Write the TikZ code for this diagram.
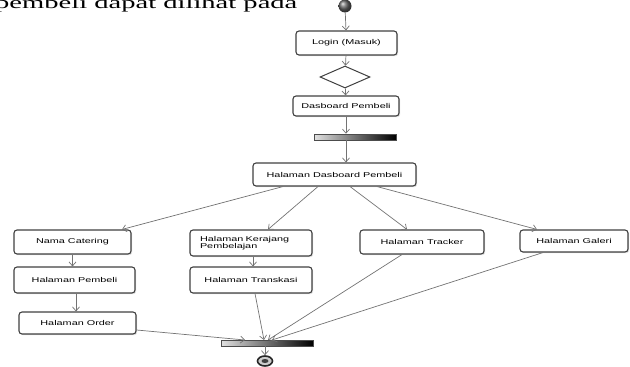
\documentclass[tikz,border=0pt]{standalone}
\usepackage{fontspec}
\setmainfont{Liberation Serif}
\newfontfamily\boxfont[FakeStretch=1.55]{Liberation Sans}
\newfontfamily\capfont[FakeStretch=1.68]{Liberation Serif}
\usetikzlibrary{arrows.meta,calc,shadows,shapes.geometric}
\begin{document}
\begin{tikzpicture}[x=1pt,y=-1pt,
  box/.style={draw=black!75, line width=1.1pt, rounded corners=3pt, fill=white,
    font=\boxfont\fontsize{7}{8}\selectfont, inner sep=2pt,
    drop shadow={shadow xshift=1.2pt, shadow yshift=-1.2pt, fill=black!25}},
  flow/.style={draw=black!55, line width=0.7pt, -{Straight Barb[length=4pt,width=7pt]}},
  bar/.style={draw=black!70, line width=0.6pt, left color=black!12, right color=black,
    inner sep=0pt, minimum height=6pt}
]
\useasboundingbox (0,0) rectangle (630,367);
\clip (0,0) rectangle (630,367);

\node[anchor=base west, font=\capfont\fontsize{17}{17}\selectfont, inner sep=0pt] (cap) at (-5,8) {pembeli dapat dilihat pada};

\node[circle, shading=ball, ball color=black!60, minimum size=13pt, inner sep=0pt] (start) at (345,6) {};
\node[box, minimum width=101pt, minimum height=24pt] (login) at (346.5,43) {Login (Masuk)};
\node[diamond, draw=black!75, line width=1pt, fill=white, minimum width=50pt, minimum height=22pt, inner sep=0pt] (dec) at (345,77) {};
\node[box, minimum width=106pt, minimum height=20pt] (dash) at (346,106) {Dasboard Pembeli};
\node[bar, minimum width=82pt] (fork1) at (355,137) {};
\node[box, minimum width=163pt, minimum height=23pt] (hdp) at (334.5,174.5) {Halaman Dasboard Pembeli};

\node[box, minimum width=117pt, minimum height=24pt] (nama) at (72.5,242) {Nama Catering};
\node[box, minimum width=122pt, minimum height=26pt, text width=102pt, inner xsep=10pt, align=left] (ker) at (251,243) {Halaman Kerajang\\[-1pt]Pembelajan};
\node[box, minimum width=124pt, minimum height=24pt] (track) at (422,242) {Halaman Tracker};
\node[box, minimum width=108pt, minimum height=22pt] (gal) at (574,241) {Halaman Galeri};
\node[box, minimum width=121pt, minimum height=26pt] (pemb) at (74.5,280) {Halaman Pembeli};
\node[box, minimum width=122pt, minimum height=26pt] (trans) at (251,280) {Halaman Transkasi};
\node[box, minimum width=117pt, minimum height=22pt] (order) at (77.5,323) {Halaman Order};

\node[bar, minimum width=92pt] (join) at (267,343) {};
\node[ellipse, draw=black!85, line width=1.6pt, fill=black!20, minimum width=15pt, minimum height=10pt, inner sep=0pt] (end) at (265,361) {};
\fill[black!75] (end.center) ellipse (3.5pt and 2pt);

\coordinate (j1) at (245,340);
\coordinate (j2) at (264,340);
\coordinate (j3) at (268,340);
\coordinate (j4) at (272,340);

\draw[flow] (start) -- (login);
\draw[flow] (login) -- (dec);
\draw[flow] (dec) -- (dash);
\draw[flow] (dash.south) -- (dash.south |- fork1.north);
\draw[flow] (dash.south |- fork1.south) -- (dash.south |- hdp.north);

\draw[flow] ($(hdp.south)+(-51.5,0)$) -- ($(nama.north)+(49.5,0)$);
\draw[flow] ($(hdp.south)+(-16.5,0)$) -- ($(ker.north)+(17,0)$);
\draw[flow] ($(hdp.south)+(15.5,0)$) -- ($(track.north)+(-15,0)$);
\draw[flow] ($(hdp.south)+(42.5,0)$) -- ($(gal.north)+(-37,0)$);

\draw[flow] (nama) -- (nama |- pemb.north);
\draw[flow] ($(pemb.south)+(1.5,0)$) -- ($(order.north)+(-1.5,0)$);
\draw[flow] ($(ker.south)+(2,0)$) -- ($(trans.north)+(2,0)$);

\draw[flow] ($(order.east)+(0,7)$) -- (j1);
\draw[flow] ($(trans.south)+(4,0)$) -- (j2);
\draw[flow] ($(track.south)+(-20,0)$) -- (j3);
\draw[flow] ($(gal.south)+(-31,0)$) -- (j4);
\draw[flow] (join.south -| end) -- (end);
\end{tikzpicture}
\end{document}
